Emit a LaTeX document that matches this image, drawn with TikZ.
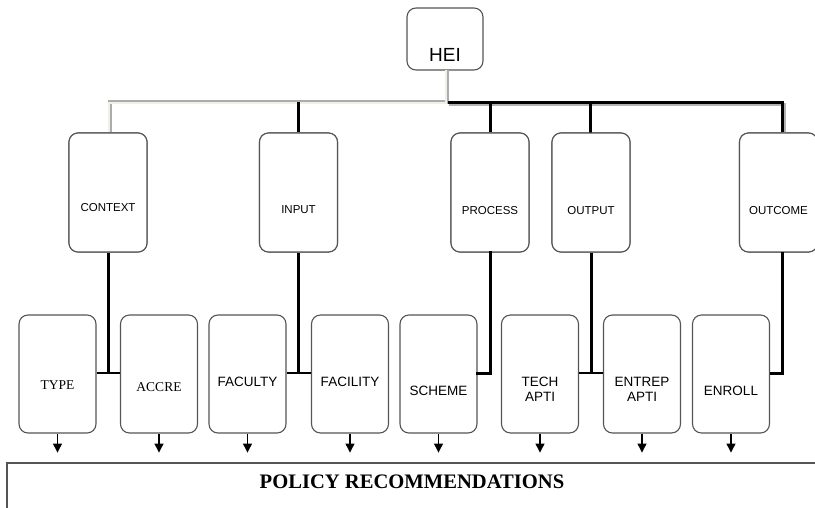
\documentclass[tikz,border=0pt]{standalone}
\usepackage{fontspec}
\setmainfont{Liberation Serif}
\newfontfamily\arial{Liberation Sans}
\usetikzlibrary{arrows.meta}
\definecolor{boxgray}{HTML}{555555}
\definecolor{cream}{HTML}{F2F0E6}
\begin{document}
\begin{tikzpicture}[x=1pt,y=-1pt,
  box/.style={draw=boxgray,line width=1.1pt,rounded corners=9pt,fill=white,inner sep=0pt},
  topbox/.style={box,minimum width=76pt,minimum height=62pt},
  midbox/.style={box,minimum width=78pt,minimum height=119pt},
  lowbox/.style={box,minimum width=77pt,minimum height=118pt},
  lbl/.style={font=\arial\fontsize{11.5}{13}\selectfont,inner sep=0pt,align=center},
  llbl/.style={font=\arial\fontsize{13.5}{15}\selectfont,inner sep=0pt,align=center},
  slbl/.style={font=\fontsize{13.5}{15}\selectfont,inner sep=0pt,align=center},
  conn/.style={line width=3pt,black},
  shadow/.style={line width=3pt,gray!60},
  arr/.style={line width=1.2pt,-{Triangle[length=9pt,width=9pt]}}
]
\useasboundingbox (0,0) rectangle (815,507);
% policy box
\draw[line width=1.2pt,draw=boxgray] (7,530) -- (7,463) coordinate (pl) -- (830,463) coordinate (pr);
\node[font=\bfseries\fontsize{20.6}{22}\selectfont,inner sep=0pt] (policy) at (412,482) {POLICY RECOMMENDATIONS};

% coordinates for bus
\coordinate (hs) at (447,70);
\coordinate (bj) at (447,102);
\coordinate (bl) at (110,102);
\coordinate (br) at (782,102);

% level 1 boxes
\node[topbox] (hei) at (445,39) {};
\node[font=\arial\fontsize{19}{21}\selectfont,inner sep=0pt] (heit) at (445,55) {HEI};

\node[midbox] (context) at (108,192.5) {};
\node[midbox] (input) at (298.5,192.5) {};
\node[midbox] (process) at (490,192.5) {};
\node[midbox] (output) at (591,192.5) {};
\node[midbox] (outcome) at (778.5,192.5) {};

% bus lines
\draw[shadow] (449,104) -- (784,104) -- (784,133);
\draw[line width=4.2pt,gray!65] (hs) -- (bj) -- (bl) -- (bl |- context.north);
\draw[line width=2pt,cream] ([xshift=-0.8pt]hs) -- ([xshift=-0.8pt,yshift=-0.8pt]bj) -- ([xshift=-0.8pt,yshift=-0.8pt]bl) -- ([xshift=-0.8pt]bl |- context.north);
\draw[conn] ([xshift=1pt]bj) -- (br) -- (br |- outcome.north);
\draw[conn] (298.5,102) -- (input.north);
\draw[conn] (490,102) -- (process.north);
\draw[conn] (590,102) -- (590,133);

% redraw level 1 boxes on top
\node[midbox] (context2) at (108,192.5) {};
\node[midbox] (input2) at (298.5,192.5) {};
\node[midbox] (process2) at (490,192.5) {};
\node[midbox] (output2) at (591,192.5) {};
\node[midbox] (outcome2) at (778.5,192.5) {};
\node[lbl] (contextt) at (108,208) {CONTEXT};
\node[lbl] (inputt) at (298.5,210) {INPUT};
\node[lbl] (processt) at (490,211) {PROCESS};
\node[lbl] (outputt) at (591,211) {OUTPUT};
\node[lbl] (outcomet) at (778.5,211) {OUTCOME};

% level 2 boxes
\node[lowbox] (type) at (57.5,374) {};
\node[lowbox] (accre) at (159,374) {};
\node[lowbox] (faculty) at (247.5,374) {};
\node[lowbox] (facility) at (350,374) {};
\node[lowbox] (scheme) at (438.5,374) {};
\node[lowbox] (tech) at (540,374) {};
\node[lowbox] (entrep) at (642,374) {};
\node[lowbox] (enroll) at (731,374) {};

\node[slbl] (typet) at (57.5,385) {TYPE};
\node[slbl] (accret) at (159,387) {ACCRE};
\node[llbl] (facultyt) at (247.5,382) {FACULTY};
\node[llbl] (facilityt) at (350,382) {FACILITY};
\node[llbl] (schemet) at (438.5,391) {SCHEME};
\node[llbl] (techt) at (540,389.5) {TECH\\APTI};
\node[llbl] (entrept) at (642,389.5) {ENTREP\\APTI};
\node[llbl] (enrollt) at (731,391) {ENROLL};

% level 1 to level 2 connectors
\coordinate (j1) at (108,373);
\coordinate (j2) at (298.5,373);
\coordinate (j3) at (490,373);
\coordinate (j4) at (591,373);
\coordinate (j5) at (782,373);
\draw[conn] (context.south) -- (j1);
\draw[line width=2.2pt] (type.east |- j1) -- (accre.west |- j1);
\draw[conn] (input.south) -- (j2);
\draw[line width=2.2pt] (faculty.east |- j2) -- (facility.west |- j2);
\draw[conn,line cap=rect] (process.south) -- (j3) -- (scheme.east |- j3);
\draw[conn] (output.south) -- (j4);
\draw[line width=2.2pt] (tech.east |- j4) -- (entrep.west |- j4);
\draw[conn] (782,252) -- (j5) -- (enroll.east |- j5);

% arrows
\foreach \n in {type,accre,faculty,facility,scheme,tech,entrep,enroll}{
  \draw[arr] (\n.south) -- ++(0,19);
}
\end{tikzpicture}
\end{document}
